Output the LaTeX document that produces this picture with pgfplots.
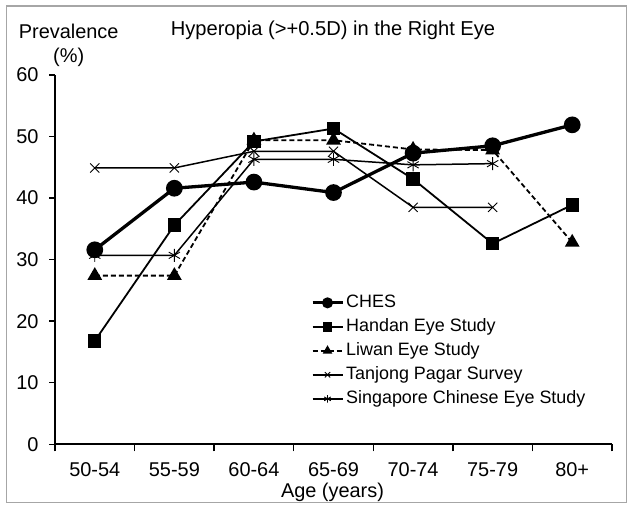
\documentclass[border=0pt]{standalone}
\usepackage{fontspec}
\setmainfont{Liberation Sans}
\usepackage{pgfplots}
\pgfplotsset{compat=1.18}
\begin{document}
\begin{tikzpicture}[x=1bp,y=1bp]
\useasboundingbox (0,0) rectangle (635,511);
\fill[white] (0,0) rectangle (635,511);
\draw[gray!70, line width=1.5bp] (6.7,8.3) rectangle (626.7,505);
\begin{axis}[
  at={(55bp,66.7bp)}, anchor=south west,
  scale only axis,
  width=557bp, height=369.3bp,
  xmin=-0.5, xmax=6.5,
  ymin=0, ymax=60,
  axis lines=left,
  axis line style={line width=2bp, -},
  xtick={0,...,6},
  xticklabels={50-54,55-59,60-64,65-69,70-74,75-79,80+},
  minor xtick={-0.5,0.5,...,6.5},
  major x tick style={draw=none},
  ytick={0,10,...,60},
  tick align=outside,
  major tick length=6bp,
  minor tick length=7bp,
  tick style={line width=1.5bp, black},
  ticklabel style={font=\fontsize{20}{22}\selectfont},
  xticklabel style={yshift=-8.5bp},
  yticklabel style={xshift=-7bp},
  /pgf/number format/assume math mode=true,
  legend style={
    draw=none, fill=none,
    font=\fontsize{18}{20}\selectfont,
    at={(axis description cs:0.459,0.412)},
    anchor=north west,
    inner sep=0pt,
    row sep=3bp,
    nodes={text height=13bp, text depth=4bp, inner sep=2bp},
  },
  legend cell align=left,
  legend image code/.code={
    \draw[mark repeat=2, mark phase=2, mark size=3.8bp]
      plot coordinates {(0bp,0bp) (15bp,0bp) (30bp,0bp)};
  },
]
\addplot[black, line width=3.3bp, mark=*, mark size=6.7bp] coordinates {
  (0,31.6) (1,41.6) (2,42.6) (3,40.9) (4,47.3) (5,48.5) (6,51.9)
};
\addlegendentry{CHES}
\addplot[black, line width=1.8bp, mark=square*, mark size=5.8bp] coordinates {
  (0,16.8) (1,35.6) (2,49.2) (3,51.3) (4,43.1) (5,32.6) (6,38.9)
};
\addlegendentry{Handan Eye Study}
\addplot[black, line width=1.8bp, dash pattern=on 5bp off 3bp, mark=triangle*, mark size=6.75bp, mark options={solid}] coordinates {
  (0,27.4) (1,27.4) (2,49.4) (3,49.4) (4,47.9) (5,47.8) (6,32.8)
};
\addlegendentry{Liwan Eye Study}
\addplot[black, line width=1.5bp, mark=x, mark size=6.5bp, mark options={line width=0.9bp}] coordinates {
  (0,44.9) (1,44.9) (2,47.6) (3,47.6) (4,38.5) (5,38.5)
};
\addlegendentry{Tanjong Pagar Survey}
\addplot[black, line width=1.5bp, mark=asterisk, mark size=6.5bp, mark options={line width=0.9bp}] coordinates {
  (0,30.7) (1,30.7) (2,46.3) (3,46.3) (4,45.4) (5,45.6)
};
\addlegendentry{Singapore Chinese Eye Study}
\end{axis}
\node[font=\fontsize{20.2}{22}\selectfont] at (333,481) {Hyperopia (>+0.5D) in the Right Eye};
\node[font=\fontsize{20}{22}\selectfont] at (68.7,479.3) {Prevalence};
\node[font=\fontsize{20}{22}\selectfont] at (68.7,453.5) {(\%)};
\node[font=\fontsize{20}{22}\selectfont] at (332.5,19) {Age (years)};
\end{tikzpicture}
\end{document}
